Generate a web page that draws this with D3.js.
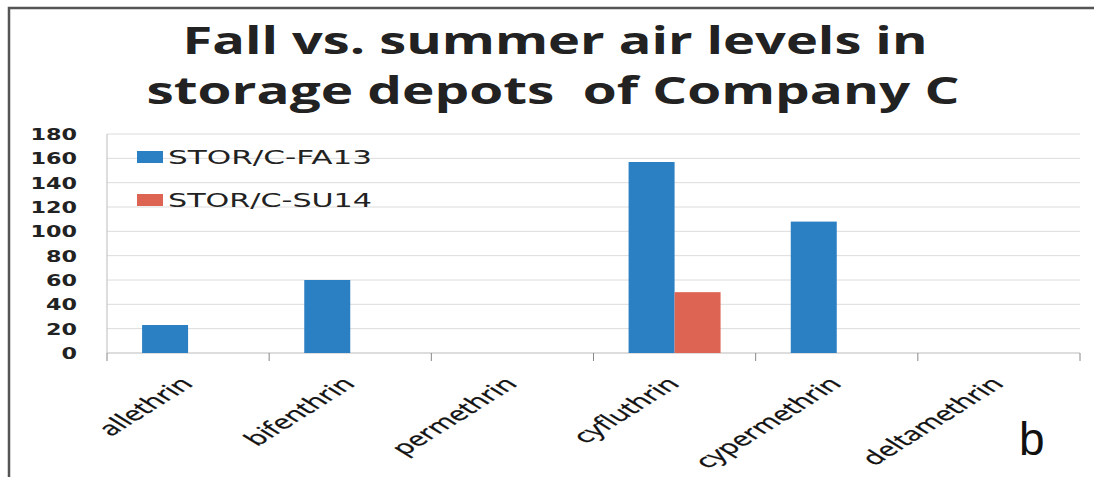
<!DOCTYPE html>
<html><head><meta charset="utf-8">
<script src="https://cdn.jsdelivr.net/npm/d3@7"></script>
<style>body{margin:0;background:#fff;}svg{display:block;} text{white-space:pre;}</style>
</head><body>
<svg id="c" width="1094" height="477"></svg>
<script>
const categories = ["allethrin","bifenthrin","permethrin","cyfluthrin","cypermethrin","deltamethrin"];
const seriesNames = ["STOR/C-FA13","STOR/C-SU14"];
const fa13 = [23, 60, 0, 157, 108, 0];
const su14 = [0, 0, 0, 50, 0, 0];
const yTicks = [0,20,40,60,80,100,120,140,160,180];
const titleLines = ["Fall vs. summer air levels in","storage depots  of Company C"];
const colors = ["#2b7fc3","#dd6352"];

(function(){
const svg = d3.select("#c");
const pl = 107, pr = 1080, pt = 134, pb = 353;
const x = d3.scaleBand().domain(categories).range([pl,pr]).paddingInner(0).paddingOuter(0);
const x1 = d3.scaleBand().domain(seriesNames).range([0,x.bandwidth()]).paddingInner(0).paddingOuter(0.763);
const y = d3.scaleLinear().domain([0,180]).range([pb,pt]);

// border
svg.append("path").attr("d",`M9,477 L9,8 L1094,8`).attr("fill","none").attr("stroke","#555").attr("stroke-width",2.5);

// title
titleLines.forEach((t,i)=>{
  svg.append("text").attr("x",[555,553][i]).attr("y",[54,104][i]).attr("text-anchor","middle")
    .attr("font-family","Open Sans, sans-serif").attr("font-weight","bold").attr("font-size",37)
    .attr("fill","#222").attr("textLength",[745,813][i]).attr("lengthAdjust","spacingAndGlyphs").text(t);
});

// gridlines
svg.append("g").selectAll("line").data(yTicks).join("line")
  .attr("x1",pl).attr("x2",pr).attr("y1",d=>y(d)).attr("y2",d=>y(d))
  .attr("stroke",d=>d===0?"#bbb":"#dcdcdc").attr("stroke-width",1);

// y axis line
svg.append("line").attr("x1",pl).attr("x2",pl).attr("y1",pt).attr("y2",pb).attr("stroke","#bbb");

// x ticks
const bounds = categories.map(c=>x(c)).concat([pr]);
svg.append("g").selectAll("line").data(bounds).join("line")
  .attr("x1",d=>d).attr("x2",d=>d).attr("y1",pb).attr("y2",pb+8).attr("stroke","#888");

// y labels
svg.append("g").selectAll("text").data(yTicks).join("text")
  .attr("x",77).attr("y",d=>y(d)+6).attr("text-anchor","end")
  .attr("font-family","DejaVu Sans, sans-serif").attr("font-weight","bold").attr("font-size",15)
  .attr("fill","#222")
  .attr("textLength",d=>String(d).length*15.5).attr("lengthAdjust","spacingAndGlyphs")
  .text(d=>d);

// bars
const data = [fa13, su14];
seriesNames.forEach((s,si)=>{
  svg.append("g").selectAll("rect").data(categories).join("rect")
    .attr("x",c=>x(c)+x1(s)).attr("width",x1.bandwidth())
    .attr("y",(c,i)=>y(data[si][i])).attr("height",(c,i)=>pb-y(data[si][i]))
    .attr("fill",colors[si]);
});

// category labels (horizontally stretched like the reference scan)
svg.append("g").selectAll("text").data(categories).join("text")
  .attr("transform",c=>`translate(${x(c)+x.bandwidth()/2+6},385) scale(1.6,1) rotate(-45)`)
  .attr("text-anchor","end")
  .attr("font-family","Open Sans, sans-serif").attr("font-size",19).attr("fill","#111")
  .attr("stroke","#111").attr("stroke-width",0.3)
  .text(c=>c);

// legend
seriesNames.forEach((s,i)=>{
  const ly = [157,200][i];
  svg.append("rect").attr("x",137).attr("y",ly-6).attr("width",26).attr("height",12).attr("fill",colors[i]);
  svg.append("text").attr("x",168).attr("y",ly+7).attr("font-family","DejaVu Sans, sans-serif")
    .attr("font-size",19).attr("fill","#222").attr("textLength",204).attr("lengthAdjust","spacingAndGlyphs").text(s);
});

// panel letter
svg.append("text").attr("x",1019).attr("y",455).attr("font-family","Liberation Sans, Arial, sans-serif")
  .attr("font-size",46).attr("fill","#111").text("b");
})();
</script>
</body></html>
